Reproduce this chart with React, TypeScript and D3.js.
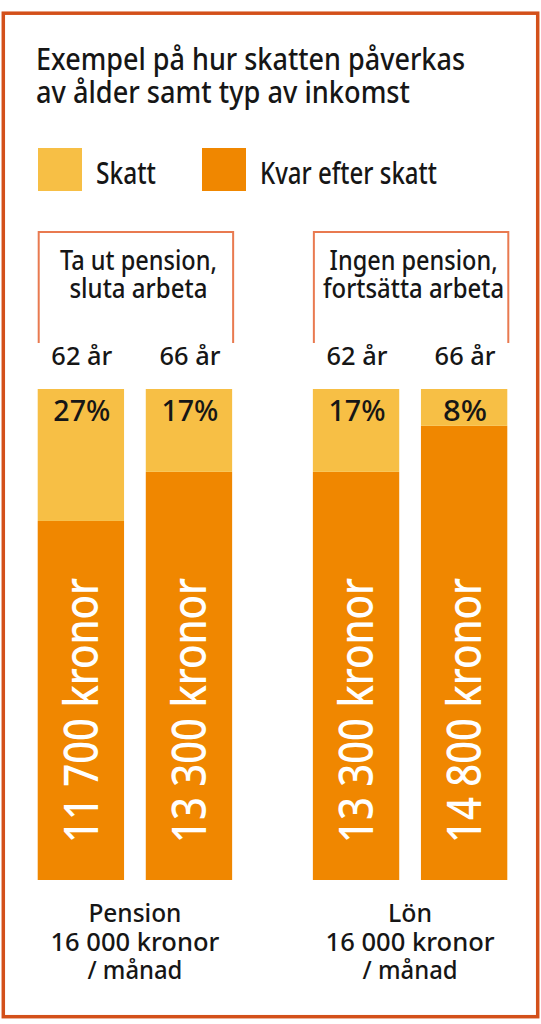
import React, { useRef, useEffect } from "react";
import * as d3 from "d3";

// data
const titleLines = ["Exempel på hur skatten påverkas", "av ålder samt typ av inkomst"];
const legendLabels = ["Skatt", "Kvar efter skatt"];
const groups = ["Pension", "Lön"];
const ages = ["62 år", "66 år"];
const grossIncome = [16000, 16000];
const netPension = [11700, 13300];
const netSalary = [13300, 14800];
const taxPctPension = [27, 17];
const taxPctSalary = [17, 8];
const headings = [
  ["Ta ut pension,", "sluta arbeta"],
  ["Ingen pension,", "fortsätta arbeta"],
];
const footers = [
  ["Pension", "16 000 kronor", "/ månad"],
  ["Lön", "16 000 kronor", "/ månad"],
];

const LIGHT = "#f7bf45";
const DARK = "#f08700";
const FRAME = "#d3501a";
const BRACKET = "#e97a50";
const INK = "#161616";
const FONT = "'Noto Sans', 'Open Sans', sans-serif";

// rendered widths of the condensed original face
const fitWidth: { [key: string]: number } = {
  "Exempel på hur skatten påverkas": 429,
  "av ålder samt typ av inkomst": 374,
  Skatt: 60,
  "Kvar efter skatt": 177,
  "Ta ut pension,": 157,
  "sluta arbeta": 138,
  "Ingen pension,": 168,
  "fortsätta arbeta": 181,
  "62 år": 61,
  "66 år": 61,
  Pension: 93,
  "16 000 kronor": 169,
  "/ månad": 95,
  Lön: 44,
};

const fmt = (v: number) => d3.format(",")(v).replace(/,/g, " ");

type Sel = d3.Selection<any, any, any, any>;

const App: React.FC = () => {
  const svgRef = useRef<SVGSVGElement>(null);

  useEffect(() => {
    const svg = d3.select(svgRef.current);
    svg.selectAll("*").remove();
    const width = 541;

    const rows = groups.flatMap((g, gi) =>
      ages.map((a, ai) => {
        const net = gi === 0 ? netPension[ai] : netSalary[ai];
        const pct = gi === 0 ? taxPctPension[ai] : taxPctSalary[ai];
        return { group: g, gi, age: a, net, tax: grossIncome[gi] - net, pct };
      })
    );

    const x0 = d3.scaleBand().domain(groups).range([37.7, 507.3]).paddingInner(0.2934);
    const x1 = d3.scaleBand().domain(ages).range([0, x0.bandwidth()]).paddingInner(0.201);
    const y = d3.scaleLinear().domain([0, d3.max(grossIncome) ?? 0]).range([880, 389]);

    const fitText = (sel: Sel, str: string, px: number, py: number, size: number, anchor: string, w?: number) => {
      const t = sel
        .append("text")
        .attr("x", px)
        .attr("y", py)
        .attr("font-size", size)
        .attr("font-family", FONT)
        .attr("font-weight", 500)
        .attr("fill", INK)
        .attr("text-anchor", anchor)
        .text(str);
      const tw = w ?? fitWidth[str];
      if (tw) t.attr("textLength", tw).attr("lengthAdjust", "spacingAndGlyphs");
      return t;
    };

    // several lines in one text element
    const block = (sel: Sel, lines: string[], px: number, py: number, size: number, lead: number, anchor: string) => {
      const t = sel
        .append("text")
        .attr("font-size", size)
        .attr("font-family", FONT)
        .attr("font-weight", 500)
        .attr("fill", INK)
        .attr("text-anchor", anchor);
      lines.forEach((line, i) => {
        const s = t
          .append("tspan")
          .attr("x", px)
          .attr("y", py + i * lead)
          .text(line);
        const tw = fitWidth[line];
        if (tw) s.attr("textLength", tw).attr("lengthAdjust", "spacingAndGlyphs");
      });
      return t;
    };

    // frame
    svg
      .append("rect")
      .attr("x", 3.3)
      .attr("y", 13.2)
      .attr("width", width - 6.6)
      .attr("height", 1003.5)
      .attr("fill", "white")
      .attr("stroke", FRAME)
      .attr("stroke-width", 3.5);

    // title
    block(svg, titleLines, 36, 70, 30, 33, "start");

    // legend
    const legend = svg.append("g");
    [LIGHT, DARK].forEach((c, i) => {
      const lx = i === 0 ? 38 : 202;
      legend.append("rect").attr("x", lx).attr("y", 148).attr("width", 44).attr("height", 43).attr("fill", c);
      fitText(legend, legendLabels[i], lx + 58, 184, 30, "start");
    });

    // brackets, headings and footers
    groups.forEach((g, gi) => {
      const gx = x0(g)!;
      const bx0 = gx + 1;
      const bx1 = gx + x0.bandwidth() + 1;
      svg
        .append("path")
        .attr("d", `M${bx0},343 V232 H${bx1} V343`)
        .attr("fill", "none")
        .attr("stroke", BRACKET)
        .attr("stroke-width", 2);
      const cx = gx + x0.bandwidth() / 2;
      block(svg, headings[gi], cx + 3.5, 269.5, 27, 28.7, "middle");
      block(svg, footers[gi], cx, 921.7, 26, 28.8, "middle");
    });

    // bars
    const bars = svg
      .selectAll(".bar")
      .data(rows)
      .enter()
      .append("g")
      .attr("class", "bar")
      .attr("transform", (d) => `translate(${x0(d.group)! + x1(d.age)!},0)`);

    bars
      .append("rect")
      .attr("x", 0)
      .attr("y", (d) => y(d.net))
      .attr("width", x1.bandwidth())
      .attr("height", (d) => y(0) - y(d.net))
      .attr("fill", DARK);

    bars
      .append("rect")
      .attr("x", 0)
      .attr("y", (d) => y(d.net + d.tax))
      .attr("width", x1.bandwidth())
      .attr("height", (d) => y(d.net) - y(d.net + d.tax))
      .attr("fill", LIGHT);

    const bw = x1.bandwidth();
    bars.each(function (d) {
      const g = d3.select(this as SVGGElement);
      fitText(g, d.age, bw / 2 + 1, 364.5, 25, "middle");
      fitText(g, `${d.pct}%`, bw / 2 + 1, y(d.net + d.tax) + 31.7, 28, "middle", d.pct < 10 ? 44 : 57);
      g.append("text")
        .attr("transform", `translate(${bw / 2},${y(0) - 37}) rotate(-90)`)
        .attr("y", 16.8)
        .attr("font-size", 47)
        .attr("font-family", FONT)
        .attr("font-weight", 500)
        .attr("fill", "white")
        .attr("textLength", 265)
        .attr("lengthAdjust", "spacingAndGlyphs")
        .text(`${fmt(d.net)} kronor`);
    });
  }, []);

  return (
    <svg
      ref={svgRef}
      width={541}
      height={1024}
      style={{ position: "absolute", left: 0, top: 0, background: "white" }}
    ></svg>
  );
};

export default App;
